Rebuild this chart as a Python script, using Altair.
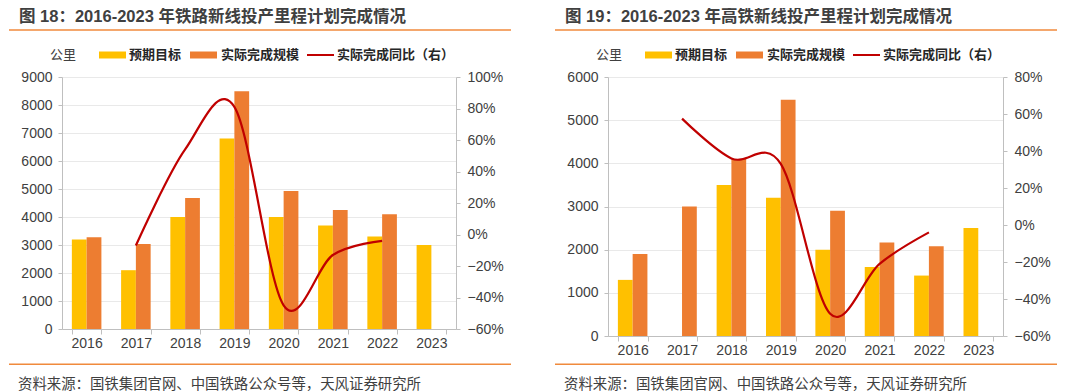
import altair as alt
import pandas as pd

years = ["2016", "2017", "2018", "2019", "2020", "2021", "2022", "2023"]

rail_target = [3200, 2100, 4000, 6800, 4000, 3700, 3300, 3000]
rail_actual = [3281, 3038, 4683, 8489, 4933, 4250, 4100, None]
rail_yoy = [None, -0.07, 0.54, 0.81, -0.45, -0.13, -0.04, None]

hsr_target = [1300, None, 3500, 3200, 2000, 1600, 1400, 2500]
hsr_actual = [1900, 3000, 4100, 5474, 2900, 2168, 2082, None]
hsr_yoy = [None, 0.575, 0.36, 0.33, -0.48, -0.21, -0.04, None]

s_target = "预期目标"
s_actual = "实际完成规模"
s_yoy = "实际完成同比（右）"

YELLOW = "#FFC000"
ORANGE = "#ED7D31"
RED = "#C00000"
FONT = "Liberation Sans, Noto Sans CJK SC"
SRC = "资料来源：国铁集团官网、中国铁路公众号等，天风证券研究所"


def one():
    return alt.Data(values=[{"k": 1}])


def panel(title, target, actual, yoy, ymax, rmin, rmax, w, h):
    rows = []
    for y, t, a in zip(years, target, actual):
        if t is not None:
            rows.append({"year": y, "series": s_target, "value": t})
        if a is not None:
            rows.append({"year": y, "series": s_actual, "value": a})
    bars_df = pd.DataFrame(rows)
    line_df = pd.DataFrame([{"year": y, "yoy": v} for y, v in zip(years, yoy) if v is not None])

    xenc = alt.X(
        "year:N",
        scale=alt.Scale(domain=years, paddingInner=0.4, paddingOuter=0.2),
        axis=alt.Axis(
            title=None, labelAngle=0, tickBand="extent", domainColor="#bfbfbf",
            tickColor="#bfbfbf", tickSize=5, labelFontSize=14, labelColor="#404040",
            labelFont=FONT, labelPadding=2,
        ),
    )

    bars = alt.Chart(bars_df).mark_bar().encode(
        x=xenc,
        xOffset=alt.XOffset("series:N", sort=[s_target, s_actual],
                            scale=alt.Scale(domain=[s_target, s_actual], paddingInner=0, paddingOuter=0)),
        y=alt.Y("value:Q", scale=alt.Scale(domain=[0, ymax], nice=False),
                axis=alt.Axis(title=None, values=list(range(0, ymax + 1, 1000)), format="d", grid=True,
                              gridColor="#e9e9e9", domainColor="#bfbfbf", tickColor="#bfbfbf",
                              tickSize=4, labelFontSize=14, labelColor="#404040", labelFont=FONT,
                              labelPadding=6)),
        color=alt.Color("series:N", scale=alt.Scale(domain=[s_target, s_actual], range=[YELLOW, ORANGE]),
                        legend=None),
    )

    ticks = [round(v / 100, 1) for v in range(int(round(rmin * 100)), int(round(rmax * 100)) + 1, 20)]
    line = alt.Chart(line_df).mark_line(color=RED, strokeWidth=2.2, interpolate="cardinal").encode(
        x=alt.X("year:N", scale=alt.Scale(domain=years)),
        y=alt.Y("yoy:Q", scale=alt.Scale(domain=[rmin, rmax], nice=False),
                axis=alt.Axis(title=None, orient="right", format=".0%", values=ticks, grid=False,
                              domainColor="#bfbfbf", tickColor="#bfbfbf", tickSize=4,
                              labelFontSize=14, labelColor="#404040", labelFont=FONT, labelPadding=7)),
    )

    deco = []
    # invisible spacer that reserves room above the title
    deco.append(alt.Chart(one()).mark_rule(color="#ffffff", opacity=0, strokeWidth=1)
                .encode(x=alt.value(0), x2=alt.value(10), y=alt.value(-69)))
    deco.append(alt.Chart(one()).mark_text(text=title, align="left", baseline="middle", fontSize=16.5,
                                           fontWeight="bold", color="#404040", font=FONT)
                .encode(x=alt.value(-43), y=alt.value(-60.5)))
    deco.append(alt.Chart(one()).mark_rule(color="#F08A3C", strokeWidth=1.5)
                .encode(x=alt.value(-53), x2=alt.value(449), y=alt.value(-47)))
    deco.append(alt.Chart(one()).mark_text(text="公里", align="center", baseline="middle", fontSize=13,
                                           color="#404040", font=FONT)
                .encode(x=alt.value(1), y=alt.value(-22)))
    deco.append(alt.Chart(one()).mark_rule(color=YELLOW, strokeWidth=7)
                .encode(x=alt.value(37), x2=alt.value(64), y=alt.value(-22)))
    deco.append(alt.Chart(one()).mark_text(text=s_target, align="left", baseline="middle", fontSize=13,
                                           fontWeight="bold", color="#262626", font=FONT)
                .encode(x=alt.value(67), y=alt.value(-22)))
    deco.append(alt.Chart(one()).mark_rule(color=ORANGE, strokeWidth=7)
                .encode(x=alt.value(128), x2=alt.value(155), y=alt.value(-22)))
    deco.append(alt.Chart(one()).mark_text(text=s_actual, align="left", baseline="middle", fontSize=13,
                                           fontWeight="bold", color="#262626", font=FONT)
                .encode(x=alt.value(159), y=alt.value(-22)))
    deco.append(alt.Chart(one()).mark_rule(color=RED, strokeWidth=2)
                .encode(x=alt.value(245), x2=alt.value(272), y=alt.value(-22)))
    deco.append(alt.Chart(one()).mark_text(text=s_yoy, align="left", baseline="middle", fontSize=13,
                                           fontWeight="bold", color="#262626", font=FONT)
                .encode(x=alt.value(275), y=alt.value(-22)))
    deco.append(alt.Chart(one()).mark_rule(color="#F08A3C", strokeWidth=1.5)
                .encode(x=alt.value(-53), x2=alt.value(449), y=alt.value(287.3)))
    deco.append(alt.Chart(one()).mark_text(text=SRC, align="left", baseline="middle", fontSize=14.4,
                                           color="#404040", font=FONT)
                .encode(x=alt.value(-44), y=alt.value(307.5)))

    return alt.layer(bars, line, *deco).resolve_scale(y="independent").properties(width=w, height=h)


left = panel("图 18：2016-2023 年铁路新线投产里程计划完成情况", rail_target, rail_actual, rail_yoy,
             9000, -0.6, 1.0, 394, 252)
right = panel("图 19：2016-2023 年高铁新线投产里程计划完成情况", hsr_target, hsr_actual, hsr_yoy,
              6000, -0.6, 0.8, 395, 259)

chart = alt.hconcat(left, right, spacing=42).properties(padding=0).configure_view(strokeWidth=0)

chart.save("out.html", embed_options={"renderer": "svg", "actions": False})
